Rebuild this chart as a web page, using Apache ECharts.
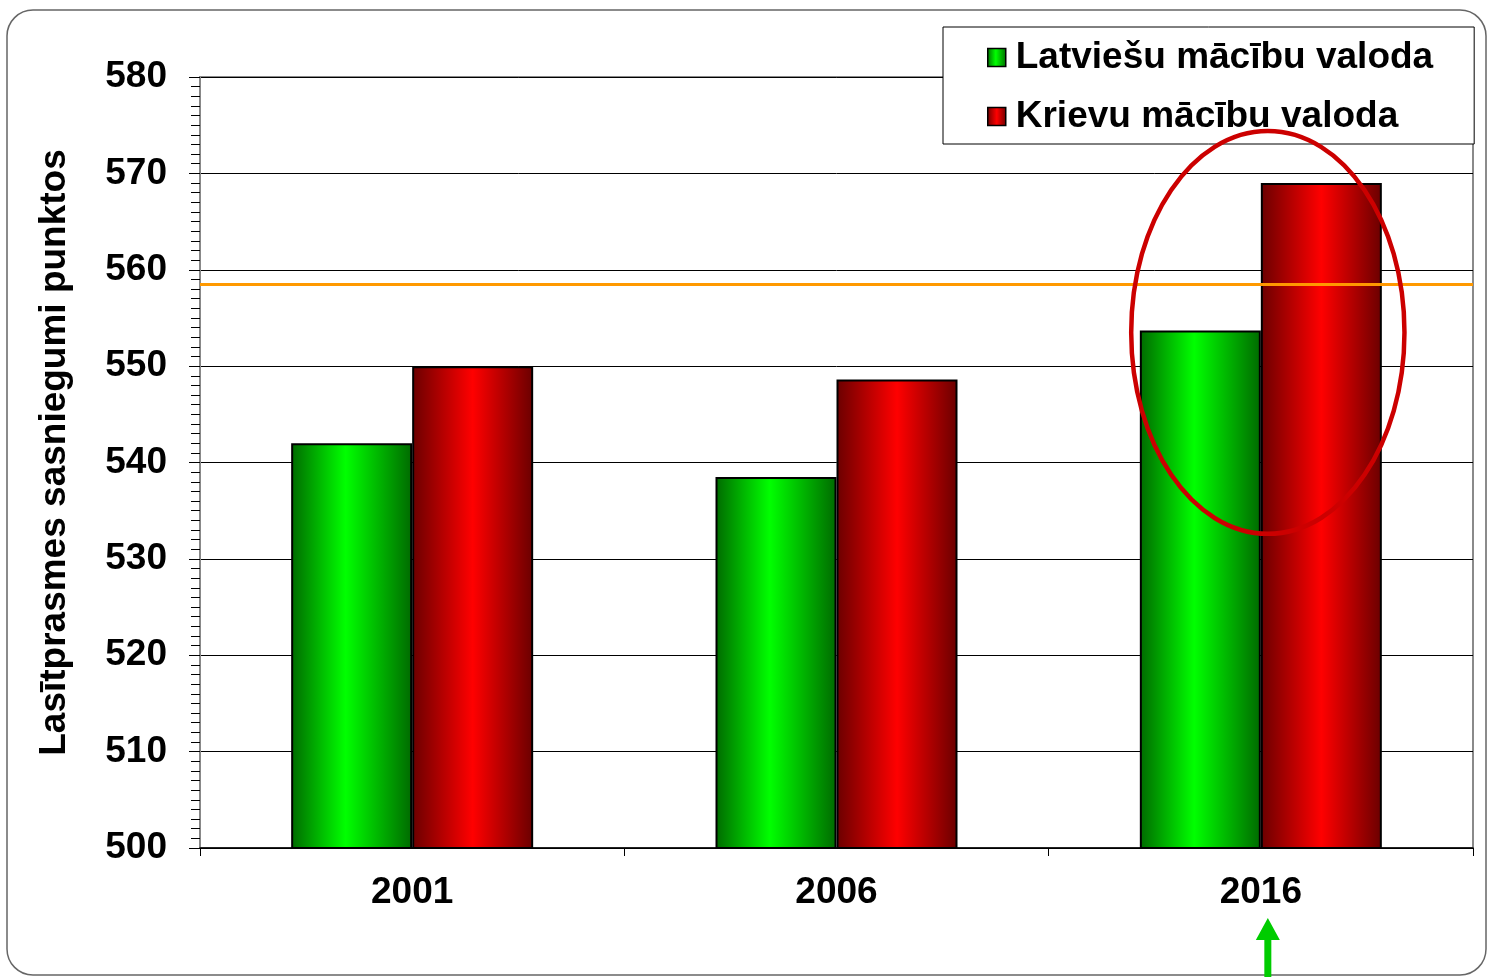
<!DOCTYPE html>
<html>
<head>
<meta charset="utf-8">
<script src="https://cdn.jsdelivr.net/npm/echarts@6/dist/echarts.min.js"></script>
<style>
  html, body { margin: 0; padding: 0; background: #fff; }
  #chart { width: 1489px; height: 977px; }
</style>
</head>
<body>
<div id="chart"></div>
<script>
const years = ['2001', '2006', '2016'];
const latvianScores = [542, 538.5, 553.7];
const russianScores = [550, 548.6, 569];
const referenceLine = 558.5;
const seriesNames = ['Latviešu mācību valoda', 'Krievu mācību valoda'];
const axisTitle = 'Lasītprasmes sasniegumi punktos';
// highlighted region (category + value range) for the red ellipse
const highlight = { year: '2016', low: 532.6, high: 574.4 };

const chart = echarts.init(document.getElementById('chart'));
const font = '"Liberation Sans", Arial, sans-serif';

const greenFill = new echarts.graphic.LinearGradient(0, 0, 1, 0, [
  { offset: 0, color: '#006a00' },
  { offset: 0.45, color: '#00ff00' },
  { offset: 1, color: '#006a00' }
]);
const redFill = new echarts.graphic.LinearGradient(0, 0, 1, 0, [
  { offset: 0, color: '#6a0000' },
  { offset: 0.5, color: '#ff0000' },
  { offset: 1, color: '#6a0000' }
]);

const option = {
  animation: false,
  backgroundColor: '#fff',
  grid: {
    left: 200, right: 16, top: 77, bottom: 129,
    show: true, borderColor: '#8a8a8a', borderWidth: 2, backgroundColor: 'transparent'
  },
  legend: {
    orient: 'vertical',
    left: 943, top: 27,
    padding: [12, 41, 9, 44],
    itemGap: 22,
    itemWidth: 18, itemHeight: 18,
    icon: 'rect',
    backgroundColor: '#fff',
    borderColor: '#000', borderWidth: 1,
    textStyle: { fontFamily: font, fontWeight: 'bold', fontSize: 37, color: '#000', padding: [0, 0, 0, 5] },
    itemStyle: { borderColor: '#000', borderWidth: 1.5 }
  },
  xAxis: {
    type: 'category',
    data: years,
    axisLine: { lineStyle: { color: '#000', width: 1.5 } },
    axisTick: { show: true, length: 8, lineStyle: { color: '#000' } },
    axisLabel: { fontFamily: font, fontWeight: 'bold', fontSize: 37, color: '#000', margin: 26 }
  },
  yAxis: {
    type: 'value',
    min: 500, max: 580, interval: 10,
    name: axisTitle,
    nameLocation: 'middle',
    nameGap: 127,
    nameTextStyle: { fontFamily: font, fontWeight: 'bold', fontSize: 37, color: '#000', padding: [0, 0, 0, 20] },
    axisLine: { show: true, lineStyle: { color: '#888', width: 2 } },
    axisTick: { show: true, length: 11, lineStyle: { color: '#000' } },
    minorTick: { show: true, splitNumber: 10, length: 9, lineStyle: { color: '#000' } },
    splitLine: { lineStyle: { color: '#000', width: 1 } },
    axisLabel: { fontFamily: font, fontWeight: 'bold', fontSize: 37, color: '#000', margin: 33 }
  },
  series: [
    {
      name: seriesNames[0],
      type: 'bar',
      data: latvianScores,
      barWidth: 121,
      barGap: '0%',
      itemStyle: { color: greenFill, borderColor: '#000', borderWidth: 2 },
      markLine: {
        silent: true,
        symbol: 'none',
        label: { show: false },
        lineStyle: { color: '#ff9900', width: 3, type: 'solid' },
        data: [{ yAxis: referenceLine }]
      }
    },
    {
      name: seriesNames[1],
      type: 'bar',
      data: russianScores,
      barWidth: 121,
      itemStyle: { color: redFill, borderColor: '#000', borderWidth: 2 }
    }
  ]
};
chart.setOption(option);

// annotations positioned from the chart's own scales
const topPt = chart.convertToPixel({ gridIndex: 0 }, [highlight.year, highlight.high]);
const lowPt = chart.convertToPixel({ gridIndex: 0 }, [highlight.year, highlight.low]);
const catWidth = chart.convertToPixel({ xAxisIndex: 0 }, years[1]) - chart.convertToPixel({ xAxisIndex: 0 }, years[0]);
const cx = topPt[0] + 7;
const cy = (topPt[1] + lowPt[1]) / 2;
const ry = (lowPt[1] - topPt[1]) / 2;
const rx = catWidth * 0.322;
const arrowX = cx;

chart.setOption({
  graphic: [
    {
      type: 'rect', silent: true, z: -10,
      shape: { x: 7, y: 10, width: 1479, height: 965, r: 26 },
      style: { fill: 'none', stroke: '#666', lineWidth: 1.5 }
    },
    {
      type: 'ellipse', silent: true, z: 100,
      shape: { cx: cx, cy: cy, rx: rx, ry: ry },
      style: { fill: 'none', stroke: '#cc0000', lineWidth: 4.5 }
    },
    {
      type: 'polygon', silent: true, z: 100,
      shape: {
        points: [
          [arrowX - 3.5, 977], [arrowX - 3.5, 940], [arrowX - 12, 940],
          [arrowX, 918], [arrowX + 12, 940], [arrowX + 3.5, 940], [arrowX + 3.5, 977]
        ]
      },
      style: { fill: '#00cc00' }
    }
  ]
});
</script>
</body>
</html>
